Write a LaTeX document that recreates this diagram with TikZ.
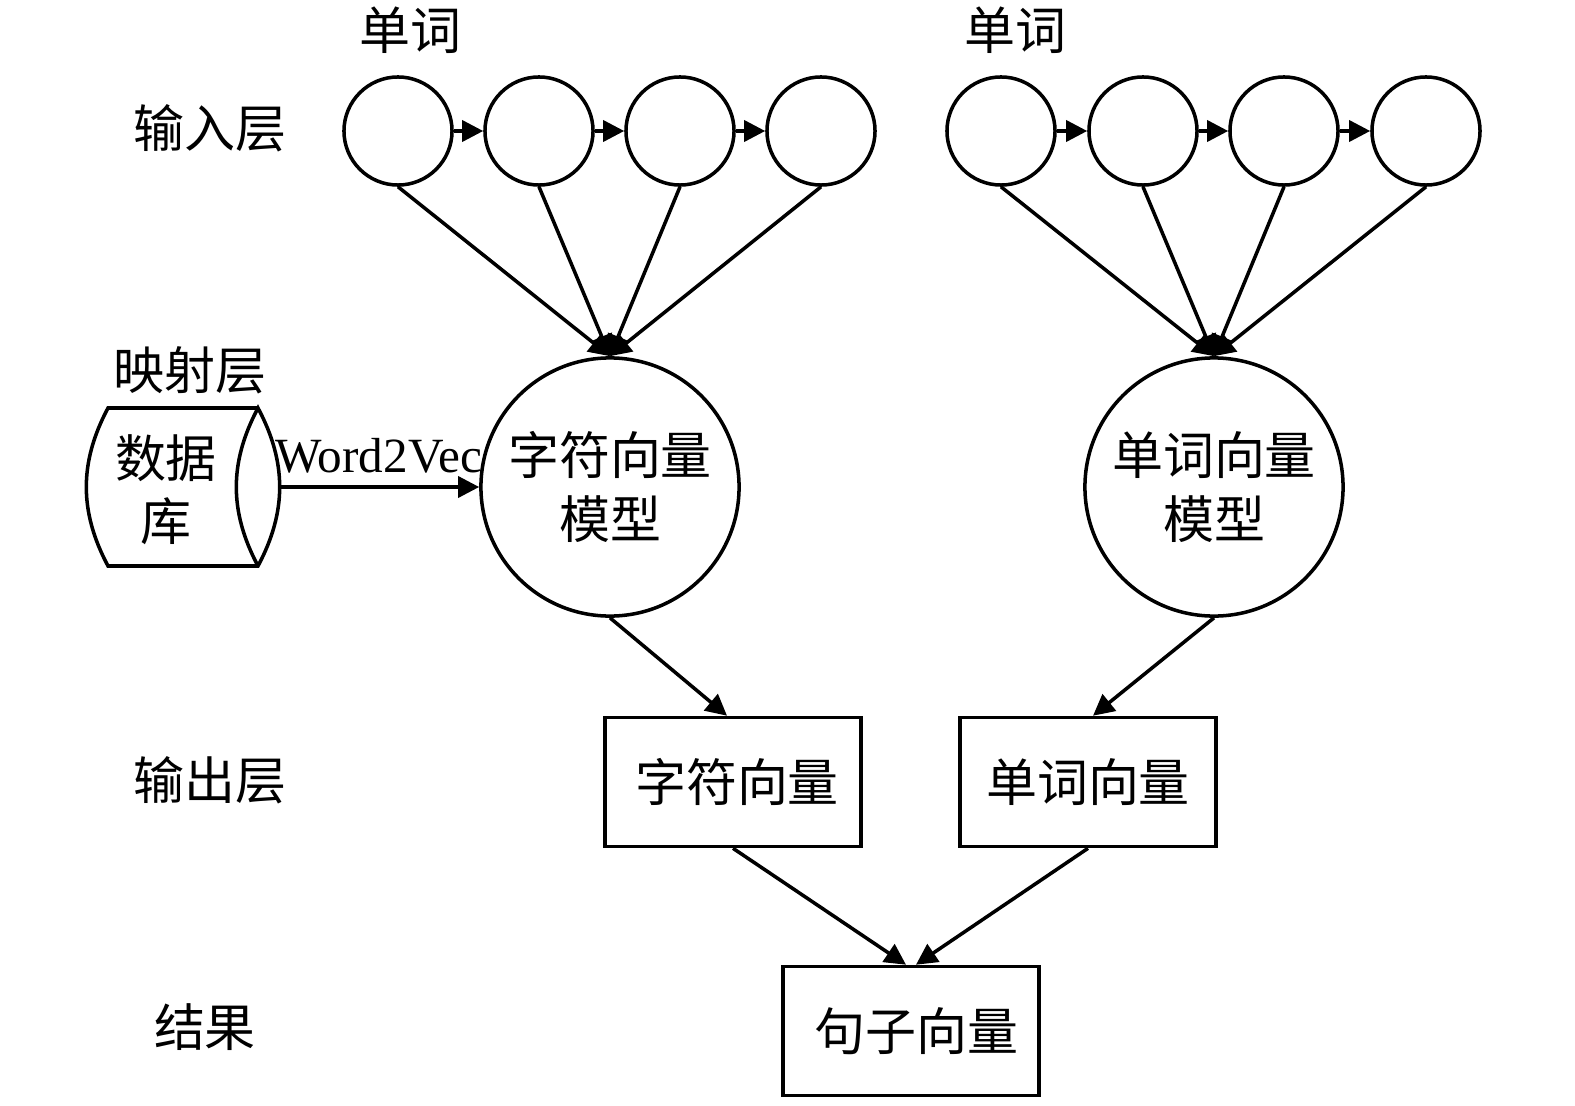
\documentclass[tikz,border=0pt]{standalone}
\usepackage{fontspec}
\setmainfont{Noto Sans CJK SC}
\newfontfamily\latinfont{Liberation Serif}
\usetikzlibrary{shapes.geometric,arrows.meta,positioning,calc}

\begin{document}
\begin{tikzpicture}[
    x=0.01cm, y=-0.01cm,
    line width=1pt,
    every node/.style={font=\fontsize{14.5}{18}\selectfont},
    unit/.style={circle, draw, minimum size=1.08cm, inner sep=0pt},
    model/.style={circle, draw, minimum size=2.58cm, align=center, inner sep=0pt},
    vec/.style={rectangle, draw, minimum width=2.56cm, minimum height=1.29cm},
    arr/.style={-{Triangle[length=6pt,width=6pt]}}
]
    \useasboundingbox (0,0) rectangle (1575,1106);

    % Layer labels
    \node (in)  at (210,128)  {输入层};
    \node (map) at (190,370)  {映射层};
    \node (out) at (210,780)  {输出层};
    \node (res) at (205,1027) {结果};
    \node (w1)  at (410,30)   {单词};
    \node (w2)  at (1015,30)  {单词};

    % Input units
    \foreach \i/\x in {1/398,2/539,3/680,4/821} {
        \node[unit] (a\i) at (\x,131) {};
    }
    \foreach \i/\x in {1/1001,2/1143,3/1284,4/1426} {
        \node[unit] (b\i) at (\x,131) {};
    }

    % Models
    \node[model] (m1) at (610,487)  {字符向量\\模型};
    \node[model] (m2) at (1214,487) {单词向量\\模型};

    % Database
    \draw (258,408) -- (108,408) to[bend right=28] (108,566) -- (258,566)
        to[bend right=28] (258,408) to[bend right=28] (258,566);
    \node[align=center] (data) at (166,490) {数据\\库};
    \coordinate (dbout) at (278,487);

    % Output and result
    \node[vec] (v1) at (733,782)  {\hspace{0.08cm}字符向量};
    \node[vec] (v2) at (1088,782) {单词向量};
    \node[vec] (s)  at (911,1031) {\hspace{0.1cm}句子向量};

    % Connections
    \foreach \i/\j in {1/2,2/3,3/4} {
        \draw[arr] (a\i) -- (a\j);
        \draw[arr] (b\i) -- (b\j);
    }
    \foreach \i in {1,...,4} {
        \draw[arr] (a\i.south) -- (m1.north);
        \draw[arr] (b\i.south) -- (m2.north);
    }
    \draw[arr] (dbout) -- node[above, font=\fontsize{14}{16}\latinfont] {Word2Vec} (m1.west);
    \draw[arr] (m1.south) -- ([xshift=-0.06cm]v1.north);
    \draw[arr] (m2.south) -- ([xshift=0.05cm]v2.north);
    \draw[arr] (v1.south) -- ([xshift=-0.05cm]s.north);
    \draw[arr] (v2.south) -- ([xshift=0.05cm]s.north);

\end{tikzpicture}
\end{document}
